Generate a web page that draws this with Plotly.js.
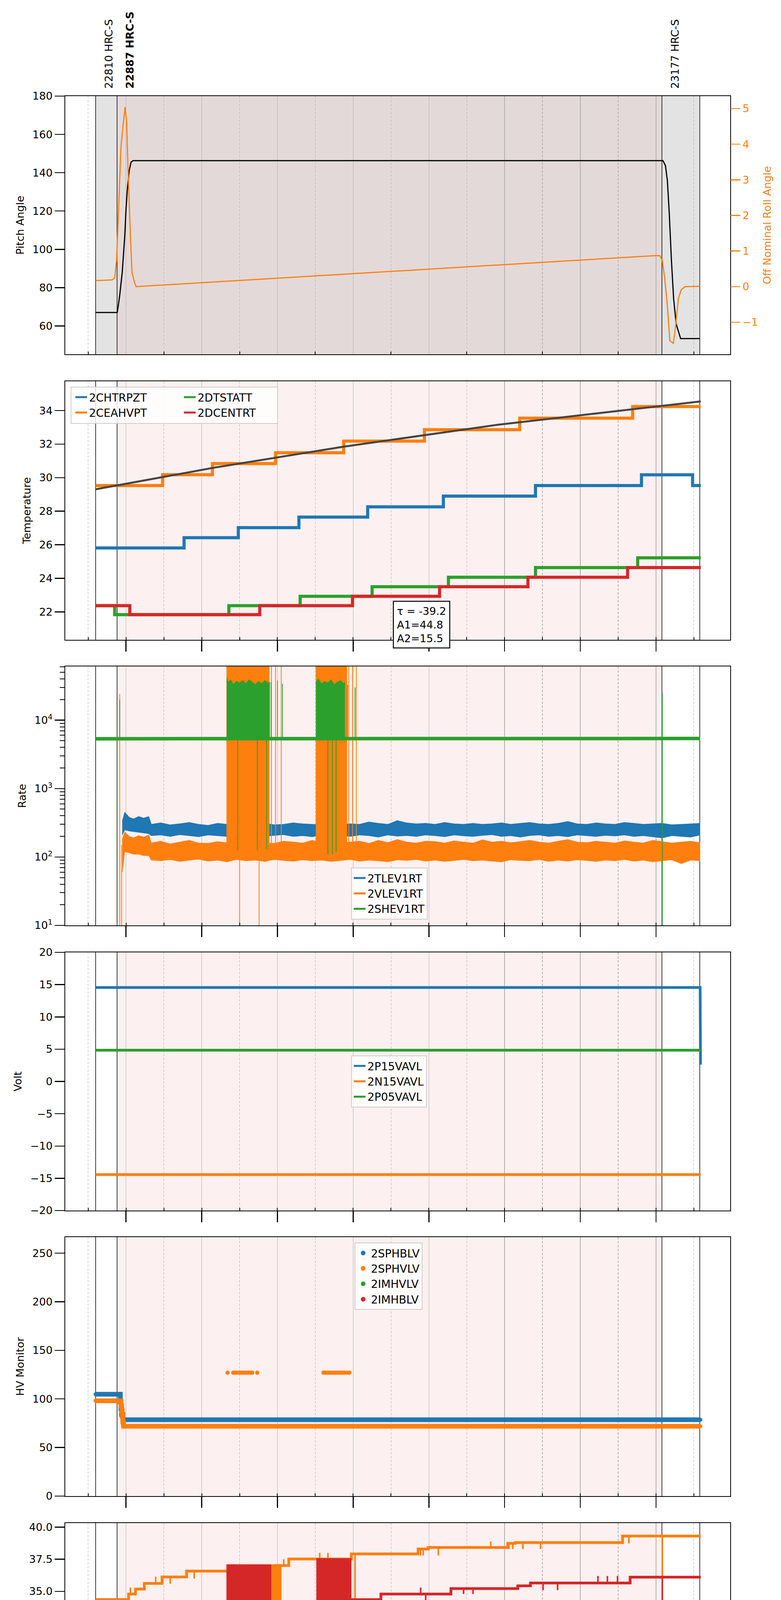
<!DOCTYPE html>
<html><head><meta charset="utf-8">
<script src="https://cdn.plot.ly/plotly-3.0.1.min.js"></script>
<style>body{margin:0;background:#fff}</style>
</head><body>
<div id="chart" style="width:2000px;height:5400px"></div>
<script>
// ================= DATA =================
const DAY0 = '2020-02-24', DAY1 = '2020-02-25';
const DATE_LABEL = '2020-02-25 (056)';
const X_RANGE = ['16:23:37', '09:57:40'];
const OBS_ID = ['22810', '22887', '23177'];
const OBS_INSTR = ['HRC-S', 'HRC-S', 'HRC-S'];
const OBS_START = ['17:11:50', '17:45:45', '08:09:25'];
const OBS_STOP = ['17:45:45', '08:09:25', '09:09:25'];
const CURRENT_OBS = '22887';
const PANEL_TITLES = ['Pitch Angle', 'Temperature', 'Rate', 'Volt', 'HV Monitor', 'Detector Temp', 'FEA Temp'];
const ROLL_TITLE = 'Off Nominal Roll Angle';

const PITCH_T = ['17:12','17:46','17:47:30','17:50','17:54','17:58','18:00','18:02','18:05','18:08','18:11','08:11','08:15','08:18','08:21','08:24:30','08:28','08:32','08:39','09:09:30'];
const PITCH_V = [67,67,70,76,88,107,121,131,141,145.5,146.3,146.3,143.7,136,119,94,74,61,53.4,53.4];
const ROLL_T = ['17:12','17:38','17:42','17:45','17:48','17:52','17:55','17:58:30','18:01','18:03','18:07','18:09:30','18:13','18:16','07:58','08:06','08:10','08:14','08:18','08:22','08:27:30','08:31','08:35:30','08:40','08:46','09:09:30'];
const ROLL_V = [0.17,0.19,0.24,0.74,2.07,3.93,4.46,5.04,4.6,3.4,1.4,0.4,0.14,0.0,0.87,0.87,0.74,0.2,-0.53,-1.52,-1.59,-1.12,-0.33,-0.09,0.0,0.01];

const CHTRPZT_T = ['17:12','19:32','20:58','22:34','00:23','02:23','04:49','07:37','08:58','09:11'];
const CHTRPZT_V = [25.81,26.42,27.02,27.65,28.26,28.90,29.53,30.17,29.53,29.53];
const CEAHVPT_T = ['17:12','18:58','20:17','21:57','23:45','01:53','04:24','07:23','09:11'];
const CEAHVPT_V = [29.53,30.18,30.84,31.49,32.18,32.86,33.55,34.24,34.24];
const DTSTATT_T = ['17:12','17:42','20:43','22:36','00:30','02:31','04:49','07:31','09:11'];
const DTSTATT_V = [22.37,21.83,22.37,22.93,23.50,24.06,24.64,25.22,25.22];
const DCENTRT_T = ['17:12','18:06','21:32','23:59','02:17','04:37','07:15','09:11'];
const DCENTRT_V = [22.37,21.83,22.37,22.93,23.50,24.06,24.64,24.64];
const FIT_T = ['17:12','20:20','23:45','03:50','09:11'];
const FIT_V = [29.31,30.60,31.85,33.16,34.55];
const FIT_TAU = -39.2, FIT_A1 = 44.8, FIT_A2 = 15.5;

const RATE_T = ['17:54','17:58','18:05','18:12','18:20','18:28','18:36',
 '18:40','18:55','19:10','19:25','19:40','19:55','20:10','20:25','20:40','20:55',
 '21:10','21:25','21:40','21:55','22:10','22:25','22:40','22:55','23:10','23:25',
 '23:40','23:55','00:10','00:25','00:40','00:55','01:10','01:25','01:40','01:55',
 '02:10','02:25','02:40','02:55','03:10','03:25','03:40','03:55','04:10','04:25',
 '04:40','04:55','05:10','05:25','05:40','05:55','06:10','06:25','06:40','06:55',
 '07:10','07:25','07:40','07:55','08:10','08:25','08:40','08:55','09:10'];
const TLEV_HI = [330,450,380,360,390,370,390,
 300,315,295,305,320,300,290,310,300,295,
 305,300,310,295,300,315,305,300,295,310,
 300,305,300,325,310,300,340,315,305,310,
 300,320,305,300,310,300,305,315,300,310,
 320,305,300,310,330,305,300,315,305,300,
 320,310,300,305,310,295,300,305,310];
const TLEV_LO = [210,250,240,235,230,225,220,
 205,210,200,212,205,198,210,205,200,208,
 203,210,200,207,212,200,205,198,210,204,
 208,200,210,205,195,210,202,206,200,210,
 205,198,210,204,200,207,212,200,205,195,
 206,210,200,205,198,210,204,200,207,203,
 210,200,205,198,190,205,200,195,210];
const VLEV_HI = [180,230,200,190,205,195,210,
 160,170,155,165,175,160,158,168,162,155,
 165,172,160,158,170,165,160,175,162,168,
 160,165,170,158,175,162,180,165,160,170,
 168,160,172,165,160,178,165,170,162,168,
 175,165,160,170,180,165,162,170,165,160,
 172,165,160,175,168,160,165,170,162];
const VLEV_LO = [60,120,115,110,110,105,105,
 90,88,92,86,90,93,87,90,85,92,
 88,90,86,92,89,87,91,88,90,86,
 89,92,87,90,88,85,91,89,92,87,
 90,86,89,92,88,90,87,85,91,89,
 88,92,86,90,87,91,89,86,90,88,
 92,87,90,85,88,91,80,90,88];
const VLEV_BLK_T0 = ['20:39:30','23:01'];
const VLEV_BLK_T1 = ['21:47','23:50'];
const VLEV_BLK_LO = [95,95];
const VLEV_BLK_HI = [1e6,1e6];
const VLEV_SPK_T = ['17:50','17:53','21:00','21:31','21:50:30','21:57','22:06','23:53','23:59','00:05'];
const VLEV_SPK_LO = [1,1,1,1,95,95,95,95,95,95];
const VLEV_SPK_HI = [24000,150,95,95,1e6,1e6,1e6,1e6,1e6,1e6];
const SHEV_T = ['17:12','09:10'];
const SHEV_V = [5350,5400];
const SHEV_FL1_T = ['20:39:30','20:42','20:46','20:50','20:55','21:00','21:05','21:10','21:15','21:20','21:25','21:30','21:35','21:40','21:45','21:48'];
const SHEV_FL1_HI = [42000,36000,39000,33000,37000,35000,38000,34000,39000,36000,33000,37000,34000,38000,35000,36000];
const SHEV_FL2_T = ['23:01','23:05','23:10','23:15','23:20','23:25','23:30','23:35','23:40','23:45','23:47'];
const SHEV_FL2_HI = [36000,40000,34000,37000,35000,39000,33000,36000,38000,34000,36000];
const SHEV_FL_LO = 5350;
const SHEV_SPK_T = ['17:50','20:57','21:28','21:43','21:50','22:00','22:08','23:20','23:27','23:33','23:51','00:03','08:10'];
const SHEV_SPK_LO = [5350,125,125,130,5350,5350,5350,110,110,120,5350,5350,1];
const SHEV_SPK_HI = [20000,5350,5350,5350,36000,38000,34000,5350,5350,5350,33000,30000,25000];

const P15VAVL_T = ['17:12','09:10','09:10:30'];
const P15VAVL_V = [14.55,14.55,2.61];
const N15VAVL_T = ['17:12','09:11'];
const N15VAVL_V = [-14.44,-14.44];
const P05VAVL_T = ['17:12','09:11'];
const P05VAVL_V = [4.84,4.84];

const SPHBLV_T = ['17:12','17:50','17:51','17:52','17:53','17:55','09:10'];
const SPHBLV_V = [104.8,104.8,97,90,84,78.6,78.6];
const SPHVLV_T = ['17:12','17:51','17:52','17:53','17:54','17:55','17:56','09:10'];
const SPHVLV_V = [98.1,98.1,93,88,82,76,71.9,71.9];
const SPHVLV_FL_T = ['20:41','20:50','20:53','20:56','20:59','21:02','21:05','21:08','21:11','21:14','21:17','21:20','21:28',
 '23:13','23:16','23:19','23:22','23:25','23:28','23:31','23:34','23:37','23:40','23:43','23:46','23:50','23:54'];
const SPHVLV_FL_V = [127,127,127,127,127,127,127,127,127,127,127,127,127,127,127,127,127,127,127,127,127,127,127,127,127,127,127];
const IMHVLV_T = ['17:12'], IMHVLV_V = [null];
const IMHBLV_T = ['17:12'], IMHBLV_V = [null];

const SPINATM_T = ['17:12','18:09','19:13','22:54','02:23','06:04','09:11'];
const SPINATM_V = [23.13,22.42,23.13,23.88,24.63,25.39,25.39];
const SPINATM_SPK_T = ['18:37','19:40','00:03'];
const SPINATM_SPK_V = [23.2,22.4,15];
const SPINATM_BLK_T0 = ['20:39:30','23:02'], SPINATM_BLK_T1 = ['22:05','23:53'];
const SPINATM_BLK_LO = [15,15], SPINATM_BLK_HI = [23.13,23.88];

const SPHVATM_T = ['17:12','18:04','18:15','18:29','18:57','19:36','21:56','22:18','23:57','01:43','01:59','04:05','04:17','07:07','09:11'];
const SPHVATM_V = [34.37,34.79,35.18,35.62,36.12,36.58,37.01,37.52,37.92,38.30,38.42,38.74,38.80,39.31,39.31];
const SPHVATM_SPK_T = ['18:07','18:47','19:10','19:48','22:10','23:07','23:20','01:47','01:51','02:15','03:38','04:07','04:13','04:29','04:57','07:17','08:10','00:03','21:28','21:43','23:27'];
const SPHVATM_SPK_V = [35.3,36.14,35.6,36.0,37.5,38.0,38.0,37.8,37.8,37.8,38.88,38.3,38.3,38.3,38.3,38.74,15,33.9,15,15,23.9];
const SPHVATM_BLK_T0 = ['20:39:30','21:28','23:02'], SPHVATM_BLK_T1 = ['21:28','22:06','23:53'];
const SPHVATM_BLK_LO = [30.24,30.63,30.98], SPHVATM_BLK_HI = [37.09,37.09,37.56];

const IMINATM_T = ['17:12','00:32','04:09','08:02','09:11'];
const IMINATM_V = [21.70,22.42,23.13,23.88,23.88];
const IMINATM_SPK_T = ['04:25','08:10','21:28','21:44','00:03'];
const IMINATM_SPK_V = [22.42,15,15,15,23.9];
const IMINATM_BLK_T0 = ['20:39:30','23:02'], IMINATM_BLK_T1 = ['22:05','23:53'];
const IMINATM_BLK_LO = [21.65,21.65], IMINATM_BLK_HI = [23.2,23.98];

const IMHVATM_T = ['17:12','17:26','19:01','20:08','21:50','23:57','00:44','02:35','04:21','04:41','07:19','09:11'];
const IMHVATM_V = [33.14,32.71,33.14,33.64,33.96,34.36,34.79,35.22,35.43,35.65,36.11,36.11];
const IMHVATM_SPK_T = ['17:58','19:22','19:32','21:54','01:47','01:55','02:55','03:10','05:01','05:24','06:28','06:43','06:59','08:10','21:28','21:44'];
const IMHVATM_SPK_V = [33.2,32.7,33.7,33.4,35.3,34.3,34.8,34.8,35.1,35.1,36.2,36.2,36.2,28.4,30.7,30.7];
const IMHVATM_BLK_T0 = ['20:39:30','23:02'], IMHVATM_BLK_T1 = ['21:50','23:57'];
const IMHVATM_BLK_LO = [33.43,34.29], IMHVATM_BLK_HI = [37.09,37.56];

const FHTRMZT_T = ['17:12','17:36','18:45','19:56','21:00','22:42','00:24','02:25','04:51','07:57','08:38','09:11'];
const FHTRMZT_V = [23.47,22.91,23.47,24.04,24.61,25.21,25.79,26.39,27.0,27.61,27.0,27.0];
const FHTRMZT_SPK_T = ['17:55','23:23','01:18','01:26','08:30'];
const FHTRMZT_SPK_V = [23.5,27.68,24.6,22.33,27.0];

const FRADPYT_T = ['17:12','18:17','18:37','19:19','20:28','21:47','23:00','23:57','00:58','03:01','05:31','08:39','09:03','09:11'];
const FRADPYT_V = [18.4,18.71,19.17,19.68,20.19,20.72,21.0,21.26,21.8,22.34,22.9,22.36,21.8,21.8];

const FEPRATM_T = ['17:12','19:50','21:58','00:32','03:46','08:18','08:46','09:11'];
const FEPRATM_V = [25.39,26.16,26.98,27.77,28.58,29.35,28.58,28.58];
const FEPRATM_SPK_T = ['08:10','23:57','00:03'];
const FEPRATM_SPK_V = [31,24.3,24.3];
const FEPRATM_BLK_T0 = ['20:39:30','23:02'], FEPRATM_BLK_T1 = ['21:51','23:53'];
const FEPRATM_BLK_LO = [23.5,24.35], FEPRATM_BLK_HI = [26.16,26.98];

const FE00ATM_T = ['17:12','17:18','19:01','19:56','20:39','21:50','22:58','23:57','00:17','01:42','03:22','05:09','07:27','08:50','09:11'];
const FE00ATM_V = [22.98,22.65,22.98,23.34,23.69,24.0,24.35,24.3,24.61,24.96,25.31,25.65,26.0,25.62,25.62];
const FE00ATM_SPK_T = ['18:02','18:07','18:27','18:54','19:10','19:17','19:34','20:17','21:51','21:55','22:26','22:42','22:50','00:03','00:50','00:51','01:28','01:51','02:07','02:50','03:00','03:55','04:05','04:24','04:29','04:37','04:49','05:06','05:17','05:40','05:48','06:16','06:38','07:03','07:43','07:50','08:10','08:42'];
const FE00ATM_SPK_V = [21.98,23.0,22.3,21.98,23.35,22.6,24.0,22.65,15,15,24.3,24.3,24.3,15,24.97,23.93,24.97,25.3,25.3,25.65,25.65,26.34,25.65,26.0,26.0,26.0,26.0,24.25,26.0,25.3,26.0,26.7,26.0,25.3,25.62,25.62,15,25.62];
const FE00ATM_BLK_T0 = ['20:39:30','21:58','22:58'], FE00ATM_BLK_T1 = ['21:47','22:12','23:57'];
const FE00ATM_BLK_LO = [15,15,15], FE00ATM_BLK_HI = [23.69,24.0,24.35];

// ================= HELPERS =================
const FONT = 'DejaVu Sans';
const C = {blue:'#1f77b4', orange:'#ff7f0e', green:'#2ca02c', red:'#d62728', fit:'#444444'};
const W = 2000, H = 5400, ML = 167, MR = 130, PW = W - ML - MR;
const PANEL_PX = [[246,907],[976,1638],[1706,2369],[2438,3099],[3167,3830],[3899,4560],[4629,5291]];
const py = p => 1 - p / H;
const px = p => (p - ML) / PW;
const xn = i => i === 1 ? 'x' : 'x' + i;
const yn = i => i === 1 ? 'y' : 'y' + (i + 1);
const key = n => n[0] === 'x' ? 'xaxis' + n.slice(1) : 'yaxis' + n.slice(1);

function T(s) { const h = +s.slice(0, 2); const full = s.length === 5 ? s + ':00' : s; return (h >= 12 ? DAY0 : DAY1) + ' ' + full; }
function ms(s) { return new Date(T(s).replace(' ', 'T')).getTime(); }
function stepAt(ts, vs, t) { let v = vs[0]; const m = ms(t); for (let i = 0; i < ts.length; i++) if (ms(ts[i]) <= m) v = vs[i]; return v; }

const traces = [];
function line(ts, vs, o) {
  traces.push(Object.assign({type:'scatter', mode:'lines', x: ts.map(T), y: vs, showlegend: false}, o));
}
function blocks(t0, t1, lo, hi, color, xa, ya) {
  const x = [], y = [];
  for (let i = 0; i < t0.length; i++) {
    x.push(T(t0[i]), T(t1[i]), T(t1[i]), T(t0[i]), T(t0[i]), null);
    y.push(lo[i], lo[i], hi[i], hi[i], lo[i], null);
  }
  traces.push({type:'scatter', mode:'lines', x, y, xaxis: xa, yaxis: ya, fill:'toself', fillcolor: color,
    line:{color, width:1}, showlegend:false, hoverinfo:'skip'});
}
function spikes(ts, los, his, color, width, xa, ya) {
  const x = [], y = [];
  ts.forEach((t, i) => { x.push(T(t), T(t), null); y.push(los[i], his[i], null); });
  traces.push({type:'scatter', mode:'lines', x, y, xaxis: xa, yaxis: ya, line:{color, width}, connectgaps:false, showlegend:false});
}
function band(ts, lo, hi, color, xa, ya, name, legend) {
  line(ts, lo, {xaxis: xa, yaxis: ya, line:{color, width:1.5}, name, legend, legendgroup: name, showlegend: !!name});
  line(ts, hi, {xaxis: xa, yaxis: ya, line:{color, width:1.5}, fill:'tonexty', fillcolor: color});
}
function series(s, color, width, xa, ya, legend) {
  line(s.t, s.v, {xaxis: xa, yaxis: ya, line:{color, width, shape:'hv'}, name: s.name, legend, legendgroup: s.name, showlegend: true});
  if (s.b0) blocks(s.b0, s.b1, s.blo, s.bhi, color, xa, ya);
  if (s.st) spikes(s.st, s.st.map(t => stepAt(s.t, s.v, t)), s.sv, color, 4, s.sxa || xa, s.sya || ya);
}

// ================= TRACES =================
// Panel 1: pitch on the main subplot, roll through the overlaid top axis 'x9' (same range) and right axis 'y2'
line(PITCH_T, PITCH_V, {xaxis:'x', yaxis:'y', line:{color:'black', width:3}});
line(ROLL_T, ROLL_V, {xaxis:'x9', yaxis:'y2', line:{color:C.orange, width:3}});

const X2 = xn(2), Y2 = yn(2);
series({t:CHTRPZT_T, v:CHTRPZT_V, name:'2CHTRPZT'}, C.blue, 8, X2, Y2, 'legend');
series({t:CEAHVPT_T, v:CEAHVPT_V, name:'2CEAHVPT'}, C.orange, 8, X2, Y2, 'legend');
series({t:DTSTATT_T, v:DTSTATT_V, name:'2DTSTATT'}, C.green, 8, X2, Y2, 'legend2');
series({t:DCENTRT_T, v:DCENTRT_V, name:'2DCENTRT'}, C.red, 8, X2, Y2, 'legend2');
line(FIT_T, FIT_V, {xaxis:X2, yaxis:Y2, line:{color:C.fit, width:5}});

const X3 = xn(3), Y3 = yn(3);
band(RATE_T, TLEV_LO, TLEV_HI, C.blue, X3, Y3, '2TLEV1RT', 'legend3');
band(RATE_T, VLEV_LO, VLEV_HI, C.orange, X3, Y3, '2VLEV1RT', 'legend3');
blocks(VLEV_BLK_T0, VLEV_BLK_T1, VLEV_BLK_LO, VLEV_BLK_HI, C.orange, X3, Y3);
spikes(VLEV_SPK_T, VLEV_SPK_LO, VLEV_SPK_HI, C.orange, 2, X3, Y3);
line(SHEV_T, SHEV_V, {xaxis:X3, yaxis:Y3, line:{color:C.green, width:9}, name:'2SHEV1RT', legend:'legend3', legendgroup:'2SHEV1RT', showlegend:true});
band(SHEV_FL1_T, SHEV_FL1_T.map(() => SHEV_FL_LO), SHEV_FL1_HI, C.green, X3, Y3);
band(SHEV_FL2_T, SHEV_FL2_T.map(() => SHEV_FL_LO), SHEV_FL2_HI, C.green, X3, Y3);
spikes(SHEV_SPK_T, SHEV_SPK_LO, SHEV_SPK_HI, C.green, 2, X3, 'y9');

const X4 = xn(4), Y4 = yn(4);
line(P15VAVL_T, P15VAVL_V, {xaxis:X4, yaxis:Y4, line:{color:C.blue, width:7}, name:'2P15VAVL', legend:'legend4', legendgroup:'2P15VAVL', showlegend:true});
line(N15VAVL_T, N15VAVL_V, {xaxis:X4, yaxis:Y4, line:{color:C.orange, width:7}, name:'2N15VAVL', legend:'legend4', legendgroup:'2N15VAVL', showlegend:true});
line(P05VAVL_T, P05VAVL_V, {xaxis:X4, yaxis:Y4, line:{color:C.green, width:7}, name:'2P05VAVL', legend:'legend4', legendgroup:'2P05VAVL', showlegend:true});

const X5 = xn(5), Y5 = yn(5);
function hvSeries(ts, vs, fts, fvs, color, name) {
  traces.push({type:'scatter', mode:'markers', x: ts.concat(fts).map(T), y: vs.concat(fvs), xaxis:X5, yaxis:Y5,
    marker:{color, size:11}, name, legend:'legend5', legendgroup:name, showlegend:true});
  if (ts.length > 1) line(ts, vs, {xaxis:X5, yaxis:Y5, line:{color, width:12, shape:'hv'}});
}
hvSeries(SPHBLV_T, SPHBLV_V, [], [], C.blue, '2SPHBLV');
hvSeries(SPHVLV_T, SPHVLV_V, SPHVLV_FL_T, SPHVLV_FL_V, C.orange, '2SPHVLV');
hvSeries(IMHVLV_T, IMHVLV_V, [], [], C.green, '2IMHVLV');
hvSeries(IMHBLV_T, IMHBLV_V, [], [], C.red, '2IMHBLV');

const X6 = xn(6), Y6 = yn(6);
series({t:SPINATM_T, v:SPINATM_V, name:'2SPINATM', st:SPINATM_SPK_T, sv:SPINATM_SPK_V, b0:SPINATM_BLK_T0, b1:SPINATM_BLK_T1, blo:SPINATM_BLK_LO, bhi:SPINATM_BLK_HI}, C.blue, 7, X6, Y6, 'legend6');
series({t:SPHVATM_T, v:SPHVATM_V, name:'2SPHVATM', st:SPHVATM_SPK_T, sv:SPHVATM_SPK_V, b0:SPHVATM_BLK_T0, b1:SPHVATM_BLK_T1, blo:SPHVATM_BLK_LO, bhi:SPHVATM_BLK_HI}, C.orange, 7, X6, Y6, 'legend6');
series({t:IMINATM_T, v:IMINATM_V, name:'2IMINATM', st:IMINATM_SPK_T, sv:IMINATM_SPK_V, b0:IMINATM_BLK_T0, b1:IMINATM_BLK_T1, blo:IMINATM_BLK_LO, bhi:IMINATM_BLK_HI}, C.green, 7, X6, Y6, 'legend6');
series({t:IMHVATM_T, v:IMHVATM_V, name:'2IMHVATM', st:IMHVATM_SPK_T, sv:IMHVATM_SPK_V, b0:IMHVATM_BLK_T0, b1:IMHVATM_BLK_T1, blo:IMHVATM_BLK_LO, bhi:IMHVATM_BLK_HI}, C.red, 7, X6, Y6, 'legend6');

const X7 = xn(7), Y7 = yn(7);
series({t:FHTRMZT_T, v:FHTRMZT_V, name:'2FHTRMZT', st:FHTRMZT_SPK_T, sv:FHTRMZT_SPK_V}, C.blue, 7, X7, Y7, 'legend7');
series({t:FRADPYT_T, v:FRADPYT_V, name:'2FRADPYT'}, C.orange, 7, X7, Y7, 'legend7');
series({t:FEPRATM_T, v:FEPRATM_V, name:'2FEPRATM', st:FEPRATM_SPK_T, sv:FEPRATM_SPK_V, b0:FEPRATM_BLK_T0, b1:FEPRATM_BLK_T1, blo:FEPRATM_BLK_LO, bhi:FEPRATM_BLK_HI}, C.green, 7, X7, Y7, 'legend7');
series({t:FE00ATM_T, v:FE00ATM_V, name:'2FE00ATM', st:FE00ATM_SPK_T, sv:FE00ATM_SPK_V, b0:FE00ATM_BLK_T0, b1:FE00ATM_BLK_T1, blo:FE00ATM_BLK_LO, bhi:FE00ATM_BLK_HI, sxa:'x8', sya:Y7}, C.red, 7, X7, Y7, 'legend7');

// ================= LAYOUT =================
const layout = {
  width: W, height: H, margin:{l:ML, r:MR, t:0, b:0},
  paper_bgcolor:'white', plot_bgcolor:'white',
  font:{family:FONT, size:27, color:'black'},
  shapes:[], annotations:[], hovermode:false
};
const range = [T(X_RANGE[0]), T(X_RANGE[1])];
for (let i = 1; i <= 7; i++) {
  const [top, bot] = PANEL_PX[i - 1];
  layout[key(xn(i))] = {
    type:'date', range, domain:[0, 1], anchor: yn(i),
    tickmode:'linear', tick0: T('18:00'), dtick: 7200000, tickformat:'%Hh',
    ticks: i === 1 ? '' : 'outside', ticklen: 28, tickwidth: 2.5, tickcolor:'black',
    showticklabels: i === 7, tickfont:{size:27},
    showgrid:true, gridcolor:'#b0b0b0', gridwidth:1.3,
    minor:{tickmode:'linear', tick0: T('17:00'), dtick: 3600000, showgrid:true, gridcolor:'#b0b0b0', gridwidth:1.3,
      griddash:'6px,4px', ticks: i === 7 ? '' : 'inside', ticklen:7, tickwidth:2, tickcolor:'black'},
    showline:true, mirror:true, linecolor:'black', linewidth:2, zeroline:false
  };
  layout[key(yn(i))] = {
    domain:[py(bot), py(top)], anchor: xn(i),
    showline:true, mirror:true, linecolor:'black', linewidth:2,
    ticks:'outside', ticklen:25, tickwidth:2.5, tickcolor:'black', tickfont:{size:27},
    showgrid:false, zeroline:false,
    title:{text: PANEL_TITLES[i - 1], font:{size:27}, standoff:14}
  };
  OBS_ID.forEach((id, k) => {
    const cur = id === CURRENT_OBS;
    if (i === 1 || cur) {
      layout.shapes.push({type:'rect', xref: xn(i), yref: yn(i) + ' domain', x0: T(OBS_START[k]), x1: T(OBS_STOP[k]), y0:0, y1:1,
        fillcolor: i === 1 ? (cur ? '#e4d9d9' : '#e3e3e3') : '#fdf0f0', line:{width:0}, layer:'below'});
    }
  });
}
for (let i = 1; i <= 7; i++) {
  const bounds = [...new Set(OBS_START.concat(OBS_STOP))];
  bounds.forEach(b => layout.shapes.push({type:'line', xref: xn(i), yref: yn(i) + ' domain', x0: T(b), x1: T(b), y0:0, y1:1,
    line:{color:'black', width:1.5}, layer:'below'}));
}
Object.assign(layout.yaxis, {range:[45.2, 180], tick0:0, dtick:20});
layout.yaxis2 = {overlaying:'y', side:'right', anchor:'x', range:[-1.9, 5.35], tick0:0, dtick:1,
  showline:false, showgrid:false, zeroline:false, ticks:'outside', ticklen:25, tickwidth:2.5, tickcolor:C.orange,
  tickfont:{size:27, color:C.orange}, title:{text: ROLL_TITLE, font:{size:27, color:C.orange}, standoff:14}};
// observation labels: tick labels of a top axis overlaid on panel 1, one tick per observation start
layout.xaxis9 = {type:'date', range, overlaying:'x', anchor:'y', side:'top',
  tickmode:'array', tickvals: OBS_START.map(T),
  ticktext: OBS_ID.map((id, k) => id === CURRENT_OBS ? '<b>' + id + ' ' + OBS_INSTR[k] + '</b>' : id + ' ' + OBS_INSTR[k]),
  tickangle:-90, ticks:'', ticklabelshift:34, ticklabelstandoff:18, tickfont:{size:27},
  showgrid:false, showline:false, zeroline:false};
Object.assign(layout[key(yn(2))], {range:[20.33, 35.75], tick0:0, dtick:2});
const LOG_RANGE = [1, 4.786];
Object.assign(layout[key(yn(3))], {type:'log', range: LOG_RANGE, tickmode:'array', tickvals:[10, 100, 1000, 10000],
  ticktext:['10<sup>1</sup>', '10<sup>2</sup>', '10<sup>3</sup>', '10<sup>4</sup>']});
const minorLog = [];
[10, 100, 1000, 10000].forEach(d => { for (let m = 2; m <= 9; m++) minorLog.push(d * m); });
layout.yaxis9 = {type:'log', overlaying: yn(3), anchor: xn(3), side:'left', range: LOG_RANGE,
  tickmode:'array', tickvals: minorLog, ticks:'outside', ticklen:13, tickwidth:2, tickcolor:'black',
  showticklabels:false, showgrid:false, showline:false, zeroline:false};
Object.assign(layout[key(yn(4))], {range:[-20, 20], tick0:0, dtick:5});
Object.assign(layout[key(yn(5))], {range:[0, 266.5], tick0:0, dtick:50});
Object.assign(layout[key(yn(6))], {range:[20.22, 40.32], tick0:0, dtick:2.5, tickformat:'.1f'});
Object.assign(layout[key(yn(7))], {range:[18.69, 30.09], tick0:0, dtick:2});
layout.xaxis7.title = {text: DATE_LABEL, font:{size:32}, standoff:10};
layout.xaxis8 = {type:'date', range, overlaying:'x7', anchor: yn(7), side:'bottom',
  tickmode:'linear', tick0: T('17:00'), dtick: 7200000, tickformat:'%Hh',
  ticks:'outside', ticklen:7, tickwidth:2, tickcolor:'black', tickfont:{size:18.6},
  showgrid:false, showline:false, zeroline:false};

const legBase = {xref:'paper', yref:'paper', xanchor:'left', yanchor:'top', font:{size:28}, traceorder:'normal',
  bgcolor:'rgba(255,255,255,0.8)', bordercolor:'#cccccc', borderwidth:2, tracegroupgap:4, itemsizing:'constant'};
layout.legend = Object.assign({}, legBase, {x: px(188), y: py(992), bgcolor:'rgba(0,0,0,0)', borderwidth:0});
layout.legend2 = Object.assign({}, legBase, {x: px(466), y: py(992), bgcolor:'rgba(0,0,0,0)', borderwidth:0});
layout.legend3 = Object.assign({}, legBase, {x: px(899), y: py(2221)});
layout.legend4 = Object.assign({}, legBase, {x: px(899), y: py(2702)});
layout.legend5 = Object.assign({}, legBase, {x: px(908), y: py(3181)});
layout.legend6 = Object.assign({}, legBase, {x: px(897), y: py(4142)});
layout.legend7 = Object.assign({}, legBase, {x: px(182), y: py(4643)});
layout.shapes.push({type:'rect', xref:'paper', yref:'paper', x0: px(182), x1: px(711), y0: py(1084), y1: py(991),
  fillcolor:'rgba(255,255,255,0.8)', line:{color:'#cccccc', width:2}, layer:'above'});

// fit parameter box
layout.annotations.push({xref:'paper', yref:'paper', x:0.536, y: py(1599), xanchor:'center', yanchor:'middle',
  showarrow:false, align:'left', bgcolor:'white', bordercolor:'black', borderwidth:2.5, borderpad:8, font:{size:27},
  text:'τ = ' + FIT_TAU + '<br>A1=' + FIT_A1 + '<br>A2=' + FIT_A2});

Plotly.newPlot('chart', traces, layout, {displayModeBar:false, staticPlot:true});
</script>
</body></html>
